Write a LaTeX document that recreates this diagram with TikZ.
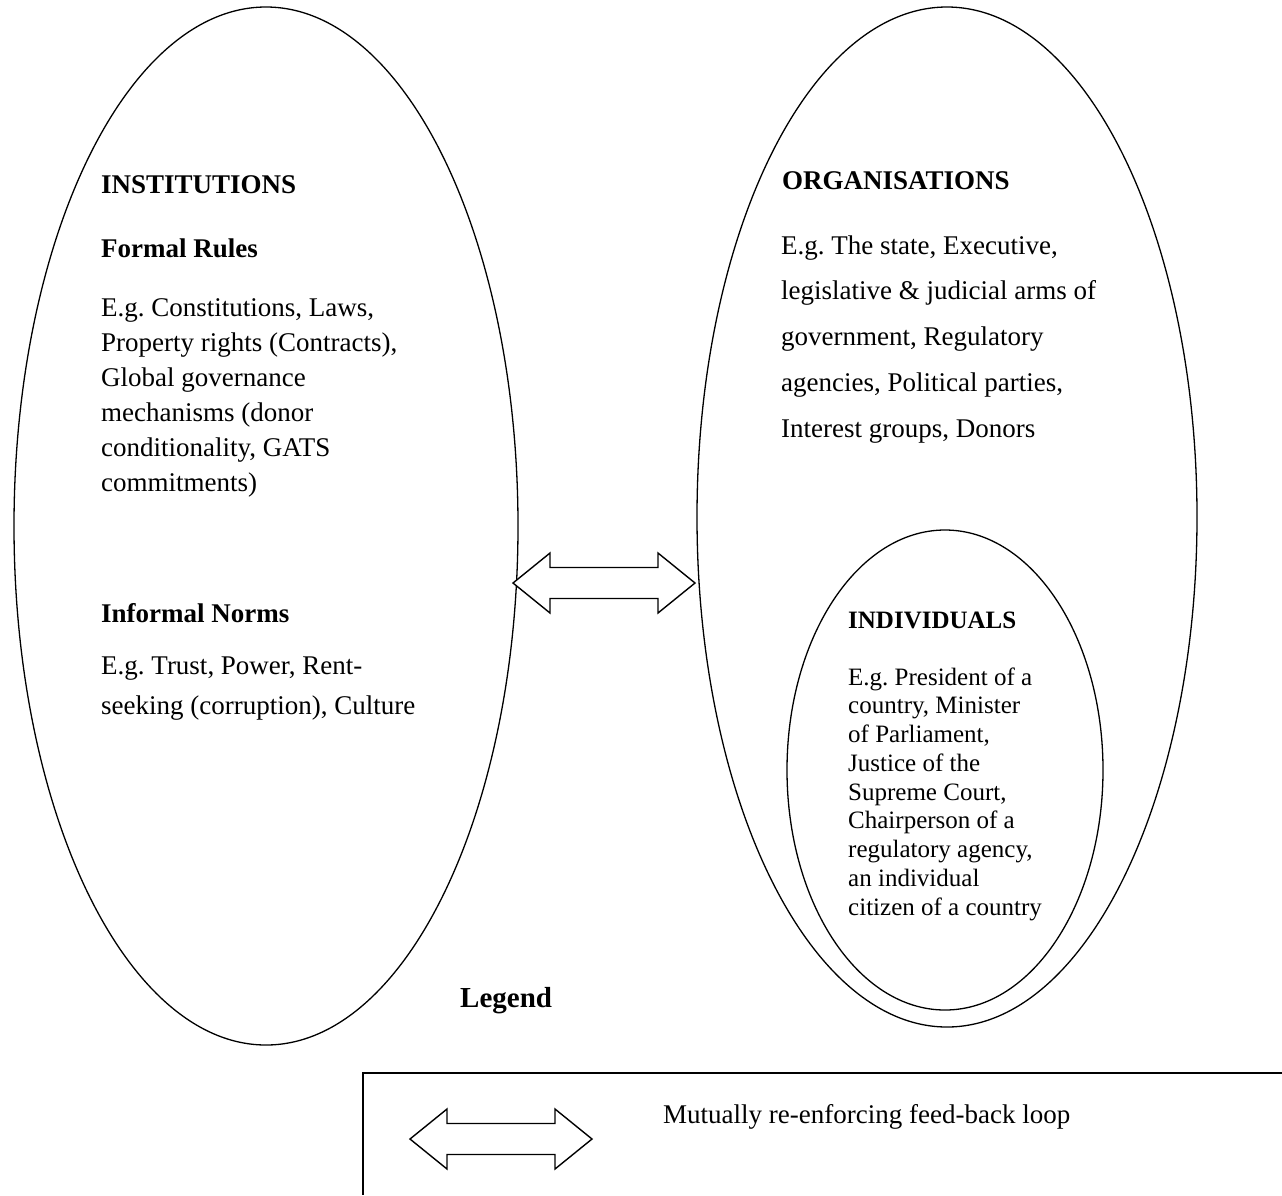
\documentclass[tikz,border=0pt]{standalone}
\usepackage{fontspec}
\setmainfont{Liberation Serif}
\usetikzlibrary{shapes.geometric}
\frenchspacing
\begin{document}
\begin{tikzpicture}[x=1pt,y=-1pt,
  oval/.style={draw, ellipse, line width=1.3pt, inner sep=0pt},
  head/.style={anchor=north west, inner sep=0pt, align=left, font=\fontsize{27}{34}\selectfont\bfseries},
  bodytext/.style={anchor=north west, inner sep=0pt, align=left},
  dblarrow/.pic={
    \draw[line width=1.4pt, line join=miter, fill=white]
      (0,0) -- (37,-30) -- (37,-15.5) -- (145,-15.5) -- (145,-30) -- (182,0)
      -- (145,30) -- (145,15.5) -- (37,15.5) -- (37,30) -- cycle;
  }]
\useasboundingbox (0,0) rectangle (1282,1195);
\fill[white] (0,0) rectangle (1282,1195);

% the three ovals
\node[oval, minimum width=504pt, minimum height=1038pt] (inst) at (266,526) {};
\node[oval, minimum width=500pt, minimum height=1020pt] (orgs) at (947,517) {};
\node[oval, minimum width=316pt, minimum height=480pt] (indiv) at (945,770) {};

% institutions
\node[head] (instT) at (101,193-24) {\strut INSTITUTIONS};
\node[head] (formT) at (101,257-24) {\strut Formal Rules};
\node[bodytext, font=\fontsize{27}{35}\selectfont] (formB) at (101,316-24.5)
  {\strut E.g. Constitutions, Laws,\\
   Property rights (Contracts),\\
   Global governance\\
   mechanisms (donor\\
   conditionality, GATS\\
   commitments)};
\node[head] (infT) at (101,622-24) {\strut Informal Norms};
\node[bodytext, font=\fontsize{27}{40}\selectfont] (infB) at (101,674-28)
  {\strut E.g. Trust, Power, Rent-\\
   seeking (corruption), Culture};

% organisations
\node[head] (orgT) at (782,189-24) {\strut ORGANISATIONS};
\node[bodytext, font=\fontsize{27}{45.75}\selectfont] (orgB) at (781,254-32)
  {\strut E.g. The state, Executive,\\
   legislative \& judicial arms of\\
   government, Regulatory\\
   agencies, Political parties,\\
   Interest groups, Donors};

% individuals
\node[head, font=\fontsize{25}{30}\selectfont\bfseries] (indT) at (848,628-21) {\strut INDIVIDUALS};
\node[bodytext, font=\fontsize{25}{28.75}\selectfont] (indB) at (848,685-20.1)
  {\strut E.g. President of a\\
   country, Minister\\
   of Parliament,\\
   Justice of the\\
   Supreme Court,\\
   Chairperson of a\\
   regulatory agency,\\
   an individual\\
   citizen of a country};

% feedback loop between institutions and organisations
\coordinate (fbL) at (513,583);
\pic at (fbL) {dblarrow};

% legend
\node[head, font=\fontsize{29}{35}\selectfont\bfseries] (legT) at (460,1007-24.5) {\strut Legend};
\coordinate (boxR) at (1282,1073);
\coordinate (boxC) at (363,1073);
\coordinate (boxB) at (363,1195);
\draw[line width=1.8pt] (boxR) -- (boxC) -- (boxB);
\coordinate (lgL) at (410,1139);
\pic at (lgL) {dblarrow};
\node[bodytext, font=\fontsize{27}{34}\selectfont] (legB) at (663,1123-23.8)
  {\strut Mutually re-enforcing feed-back loop};
\end{tikzpicture}
\end{document}
